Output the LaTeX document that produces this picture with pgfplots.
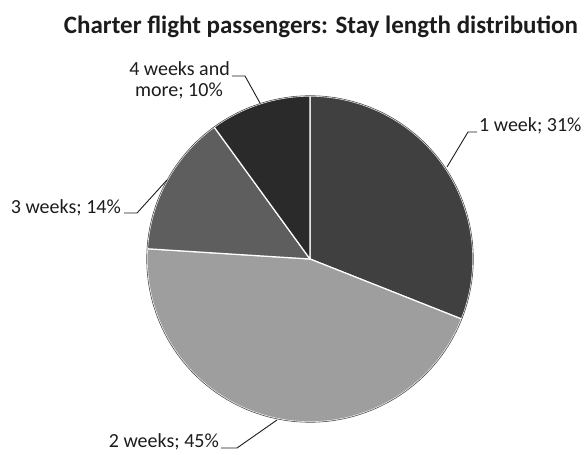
\documentclass[border=0pt]{standalone}
\usepackage{pgfplots}
\pgfplotsset{compat=1.18}
\usepackage{fontspec}
\setmainfont{Carlito}
\definecolor{wkone}{RGB}{64,64,64}
\definecolor{wktwo}{RGB}{158,158,158}
\definecolor{wkthree}{RGB}{94,94,94}
\definecolor{wkfour}{RGB}{42,42,42}
\definecolor{txt}{RGB}{28,28,28}

% pie in pixel units: centre (310,196), radius 163
% shares (%): 1 week 31, 2 weeks 45, 3 weeks 14, 4 weeks and more 10
\begin{document}
\begin{tikzpicture}[lbl/.style={inner sep=0pt, txt, font=\fontsize{20}{24}\selectfont}]
\begin{axis}[
    hide axis, scale only axis,
    width=587pt, height=455pt,
    xmin=0, xmax=587, ymin=0, ymax=455,
    clip=false,
    every axis plot/.append style={samples=90, line join=round},
]
% 1 week: 0 -> 31
\addplot[fill=wkone, draw=white, line width=1.2pt, domain={90-3.6*31}:{90-3.6*0}]
    ({310+163*cos(x)},{196+163*sin(x)}) -- (310,196) -- cycle;
% 2 weeks: 31 -> 76
\addplot[fill=wktwo, draw=white, line width=1.2pt, domain={90-3.6*76}:{90-3.6*31}]
    ({310+163*cos(x)},{196+163*sin(x)}) -- (310,196) -- cycle;
% 3 weeks: 76 -> 90
\addplot[fill=wkthree, draw=white, line width=1.2pt, domain={90-3.6*90}:{90-3.6*76}]
    ({310+163*cos(x)},{196+163*sin(x)}) -- (310,196) -- cycle;
% 4 weeks and more: 90 -> 100
\addplot[fill=wkfour, draw=white, line width=1.2pt, domain={90-3.6*100}:{90-3.6*90}]
    ({310+163*cos(x)},{196+163*sin(x)}) -- (310,196) -- cycle;
% rim
\addplot[draw=black!70, line width=0.6pt, domain=0:360, samples=180]
    ({310+163.3*cos(x)},{196+163.3*sin(x)});

% leader lines
\draw[txt, line width=0.9pt] (447,288) -- (468,323) -- (477,323);
\draw[txt, line width=0.9pt] (167,275) -- (137,242) -- (124,242);
\draw[txt, line width=0.9pt] (277,35) -- (237,7) -- (221,7);
\draw[txt, line width=0.9pt] (260,352) -- (245,379) -- (232,379);

% labels
\node[lbl, anchor=base west] at (479,323) {1 week; 31\%};
\node[lbl, anchor=base east] at (121,241) {3 weeks; 14\%};
\node[lbl, anchor=base east] at (219,7) {2 weeks; 45\%};
\node[lbl, anchor=base east] at (230,379) {4 weeks and};
\node[lbl, anchor=base] at (179,358) {more; 10\%};

% title
\node[anchor=base, inner sep=0pt, txt, font=\fontsize{25}{30}\selectfont\bfseries] at (321,421)
    {Charter flight passengers: Stay length distribution};

\path (0,0) rectangle (587,455);
\end{axis}
\end{tikzpicture}
\end{document}
